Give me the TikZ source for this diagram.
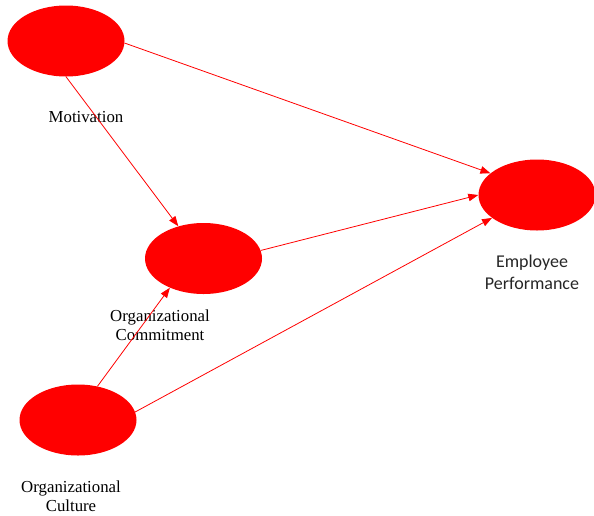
\documentclass[tikz,border=0pt]{standalone}
\usepackage{fontspec}
\newfontfamily\timesf{Liberation Serif}
\newfontfamily\calib{Carlito}
\usetikzlibrary{shapes.geometric,arrows.meta}
\tikzset{
  var/.style={ellipse, fill=red, draw=none, inner sep=0pt, minimum width=117pt, minimum height=71pt},
  link/.style={draw=red, line width=0.8pt, -{Triangle[length=10pt,width=7.5pt]}},
  serlabel/.style={font=\timesf\fontsize{16.8}{19.5}\selectfont, text=black, align=center, inner sep=0pt},
  sanslabel/.style={font=\calib\fontsize{18}{22}\selectfont, text=black!85, align=center, inner sep=0pt}
}
\begin{document}
\begin{tikzpicture}[x=1pt,y=-1pt]
\useasboundingbox (0,0) rectangle (594,515);
\node[var] (mot) at (66,41) {};
\node[var] (com) at (203.5,258.5) {};
\node[var] (cul) at (78,420) {};
\node[var] (ep) at (537,195) {};
\node[serlabel, anchor=base] (lmot) at (86,122) {Motivation};
\node[serlabel, anchor=center] (lcom) at (160,325) {Organizational\\Commitment};
\node[serlabel, anchor=center] (lcul) at (71,496) {Organizational\\Culture};
\node[sanslabel, anchor=center] (lep) at (532,272) {Employee\\Performance};
\draw[link] (mot.358) -- (ep.155);
\draw[link] (mot.270) -- (com.128);
\draw[link] (com.8) -- (ep.180);
\draw[link] (cul.60) -- (com.221);
\draw[link] (cul.8) -- (ep.207);
\end{tikzpicture}
\end{document}
